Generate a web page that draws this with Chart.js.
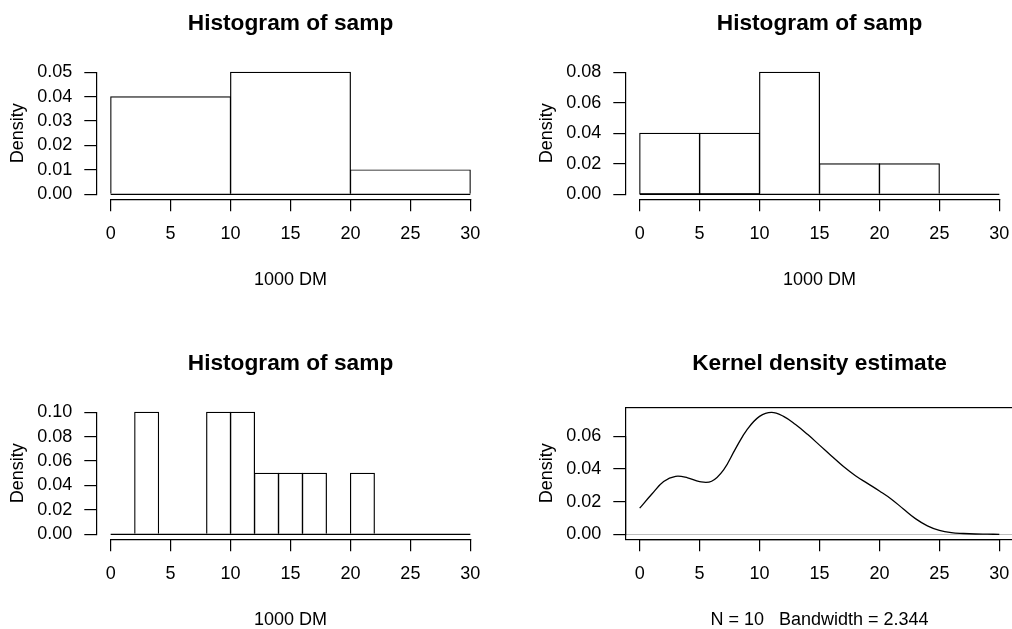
<!DOCTYPE html>
<html>
<head>
<meta charset="utf-8">
<script src="https://cdn.jsdelivr.net/npm/chart.js@4.4.1/dist/chart.umd.min.js"></script>
<style>
  html, body { margin: 0; padding: 0; background: #fff; overflow: hidden; width: 1012px; height: 629px; }
  canvas { position: absolute; }
</style>
</head>
<body>
<canvas id="p1" width="530" height="340" style="left:0px;top:0px;width:530px;height:340px"></canvas>
<canvas id="p2" width="530" height="340" style="left:529px;top:0px;width:530px;height:340px"></canvas>
<canvas id="p3" width="530" height="340" style="left:0px;top:340px;width:530px;height:340px"></canvas>
<canvas id="p4" width="530" height="340" style="left:529px;top:340px;width:530px;height:340px"></canvas>
<script>
// ---------------- data ----------------
const xTickLabels = ["0", "5", "10", "15", "20", "25", "30"];

const binEdges1 = [0, 10, 20, 30];
const density1 = [0.04, 0.05, 0.01];
const yTickLabels1 = ["0.00", "0.01", "0.02", "0.03", "0.04", "0.05"];

const binEdges2 = [0, 5, 10, 15, 20, 25, 30];
const density2 = [0.04, 0.04, 0.08, 0.02, 0.02, 0.00];
const yTickLabels2 = ["0.00", "0.02", "0.04", "0.06", "0.08"];

const binEdges3 = [0, 2, 4, 6, 8, 10, 12, 14, 16, 18, 20, 22, 24, 26, 28, 30];
const density3 = [0.00, 0.10, 0.00, 0.00, 0.10, 0.10, 0.05, 0.05, 0.05, 0.00, 0.05, 0.00, 0.00, 0.00, 0.00];
const yTickLabels3 = ["0.00", "0.02", "0.04", "0.06", "0.08", "0.10"];

const kdeX = [0, 1, 2, 3, 4, 5, 6, 7, 8, 9, 10, 11, 12, 13, 14, 15, 16, 17, 18, 19, 20, 21, 22, 23, 24, 25, 26, 27, 28, 29, 30];
const kdeY = [0.0160, 0.0245, 0.0323, 0.0355, 0.0346, 0.0322, 0.0325, 0.0395, 0.0525, 0.0645, 0.0722,
              0.0747, 0.0722, 0.0672, 0.0612, 0.0546, 0.0480, 0.0415, 0.0359, 0.0312, 0.0265,
              0.0215, 0.0155, 0.0096, 0.0052, 0.0024, 0.0010, 0.0005, 0.0002, 0.0001, 0.0000];
const yTickLabels4 = ["0.00", "0.02", "0.04", "0.06"];

const histTitle = "Histogram of samp";
const kdeTitle = "Kernel density estimate";
const histXLabel = "1000 DM";
const kdeXLabel = "N = 10   Bandwidth = 2.344";
const yLabel = "Density";

// ---------------- layout / style ----------------
const FONT = '"Liberation Sans", Arial, Helvetica, sans-serif';
Chart.defaults.font.family = FONT;
Chart.defaults.font.size = 18;
Chart.defaults.color = '#000';

const G = { W: 530, H: 340, plotL: 96.3, plotR: 484.7, plotT: 67.4, plotB: 199.2,
            titleMid: 23.3, xTitleMid: 280.5, yTitleMid: 18.3, tick: 12, gapX: 12.5, gapY: 12 };
const TITLE_SIZE = 22.7, BASE = 18, LW = 1.2;

const align = (v, w) => Math.round(v - w / 2) + w / 2;

const rAxes = {
  id: 'rAxes',
  beforeDatasetsDraw(chart, args, opts) {
    if (!opts.zeroLine) return;
    const ctx = chart.ctx, a = chart.chartArea;
    const y = align(chart.scales.y.getPixelForValue(0), 1);
    ctx.save();
    ctx.strokeStyle = '#BEBEBE';
    ctx.lineWidth = 1;
    ctx.beginPath();
    ctx.moveTo(a.left, y);
    ctx.lineTo(a.right, y);
    ctx.stroke();
    ctx.restore();
  },
  afterDraw(chart, args, opts) {
    const ctx = chart.ctx, xs = chart.scales.x, ys = chart.scales.y;
    ctx.save();
    ctx.strokeStyle = '#000';
    ctx.lineWidth = LW;
    ctx.lineCap = 'square';
    ctx.beginPath();
    const yb = align(xs.top, LW);
    ctx.moveTo(align(xs.getPixelForValue(xs.ticks[0].value), LW), yb);
    ctx.lineTo(align(xs.getPixelForValue(xs.ticks[xs.ticks.length - 1].value), LW), yb);
    const xl = align(ys.right, LW);
    ctx.moveTo(xl, align(ys.getPixelForValue(ys.ticks[0].value), LW));
    ctx.lineTo(xl, align(ys.getPixelForValue(ys.ticks[ys.ticks.length - 1].value), LW));
    ctx.stroke();
    if (opts.box) {
      const a = chart.chartArea;
      ctx.lineCap = 'butt';
      const l = align(a.left, LW), t = align(a.top, LW), r = align(a.right, LW), b = align(a.bottom, LW);
      ctx.strokeRect(l, t, r - l, b - t);
    }
    ctx.restore();
  }
};

function baseOptions(title, xTitle, yLabels, yMaxData, extraOpts) {
  const xTicks = xTickLabels.map(Number);
  const xLo = xTicks[0], xHi = xTicks[xTicks.length - 1], xPad = 0.04 * (xHi - xLo);
  const yTicks = yLabels.map(Number);
  const yPad = 0.04 * yMaxData;
  const lh = TITLE_SIZE * 1.2;
  const tPadTop = G.titleMid - lh / 2;
  const tPadBottom = G.plotT - lh - tPadTop;
  return {
    responsive: false,
    animation: false,
    devicePixelRatio: 1,
    events: [],
    layout: { padding: { left: 0, top: 0, right: G.W - G.plotR, bottom: 0 } },
    plugins: {
      legend: { display: false },
      tooltip: { enabled: false },
      title: {
        display: true, text: title, fullSize: false, color: '#000',
        font: { family: FONT, size: TITLE_SIZE, weight: 'bold' },
        padding: { top: tPadTop, bottom: tPadBottom }
      },
      rAxes: extraOpts
    },
    scales: {
      x: {
        type: 'linear', position: 'bottom', min: xLo - xPad, max: xHi + xPad,
        offset: false, bounds: 'data',
        afterBuildTicks: s => { s.ticks = xTicks.map(v => ({ value: v })); },
        afterFit: s => { s.height = G.H - G.plotB; },
        ticks: { autoSkip: false, maxRotation: 0, minRotation: 0, padding: G.gapX, color: '#000',
                 font: { family: FONT, size: BASE }, callback: (v, i) => xTickLabels[i] },
        grid: { display: true, offset: false, drawOnChartArea: false, drawTicks: true, tickLength: G.tick, color: '#000', lineWidth: LW },
        border: { display: false },
        title: { display: true, text: xTitle, color: '#000', font: { family: FONT, size: BASE },
                 padding: { top: 0, bottom: G.H - BASE * 1.2 / 2 - G.xTitleMid } }
      },
      y: {
        type: 'linear', position: 'left', min: -yPad, max: yMaxData + yPad, bounds: 'data',
        afterBuildTicks: s => { s.ticks = yTicks.map(v => ({ value: v })); },
        afterFit: s => { s.width = G.plotL; },
        ticks: { autoSkip: false, padding: G.gapY, color: '#000', font: { family: FONT, size: BASE },
                 callback: (v, i) => yLabels[i] },
        grid: { display: true, drawOnChartArea: false, drawTicks: true, tickLength: G.tick, color: '#000', lineWidth: LW },
        border: { display: false },
        title: { display: true, text: yLabel, color: '#000', font: { family: FONT, size: BASE },
                 padding: { top: G.yTitleMid - BASE * 1.2 / 2, bottom: 0 } }
      }
    }
  };
}

function histChart(id, edges, dens, yLabels) {
  const opts = baseOptions(histTitle, histXLabel, yLabels, Math.max(...dens), { box: false, zeroLine: false });
  opts.scales.xb = {
    type: 'linear', display: false, position: 'bottom',
    min: opts.scales.x.min, max: opts.scales.x.max, offset: false, bounds: 'data',
    grid: { offset: false },
    afterBuildTicks: s => { s.ticks = edges.map(v => ({ value: v })); }
  };
  const bars = dens.map((d, i) => ({ x: (edges[i] + edges[i + 1]) / 2, y: d }));
  new Chart(document.getElementById(id), {
    type: 'bar',
    data: {
      datasets: [
        { type: 'bar', data: bars, xAxisID: 'xb', yAxisID: 'y',
          backgroundColor: 'rgba(0,0,0,0)', borderColor: '#000', borderWidth: 0.2,
          borderSkipped: 'start', inflateAmount: 0.5, barPercentage: 1, categoryPercentage: 1, grouped: false },
        { type: 'line', data: [{ x: edges[0], y: 0 }, { x: edges[edges.length - 1], y: 0 }],
          xAxisID: 'x', yAxisID: 'y', borderColor: '#000', borderWidth: LW, pointRadius: 0, fill: false }
      ]
    },
    options: opts,
    plugins: [rAxes]
  });
}

histChart('p1', binEdges1, density1, yTickLabels1);
histChart('p2', binEdges2, density2, yTickLabels2);
histChart('p3', binEdges3, density3, yTickLabels3);

(function () {
  const opts = baseOptions(kdeTitle, kdeXLabel, yTickLabels4, Math.max(...kdeY), { box: true, zeroLine: true });
  new Chart(document.getElementById('p4'), {
    type: 'line',
    data: {
      datasets: [{
        data: kdeX.map((x, i) => ({ x: x, y: kdeY[i] })),
        borderColor: '#000', borderWidth: 1.3, pointRadius: 0, fill: false,
        tension: 0.4
      }]
    },
    options: opts,
    plugins: [rAxes]
  });
})();
</script>
</body>
</html>
